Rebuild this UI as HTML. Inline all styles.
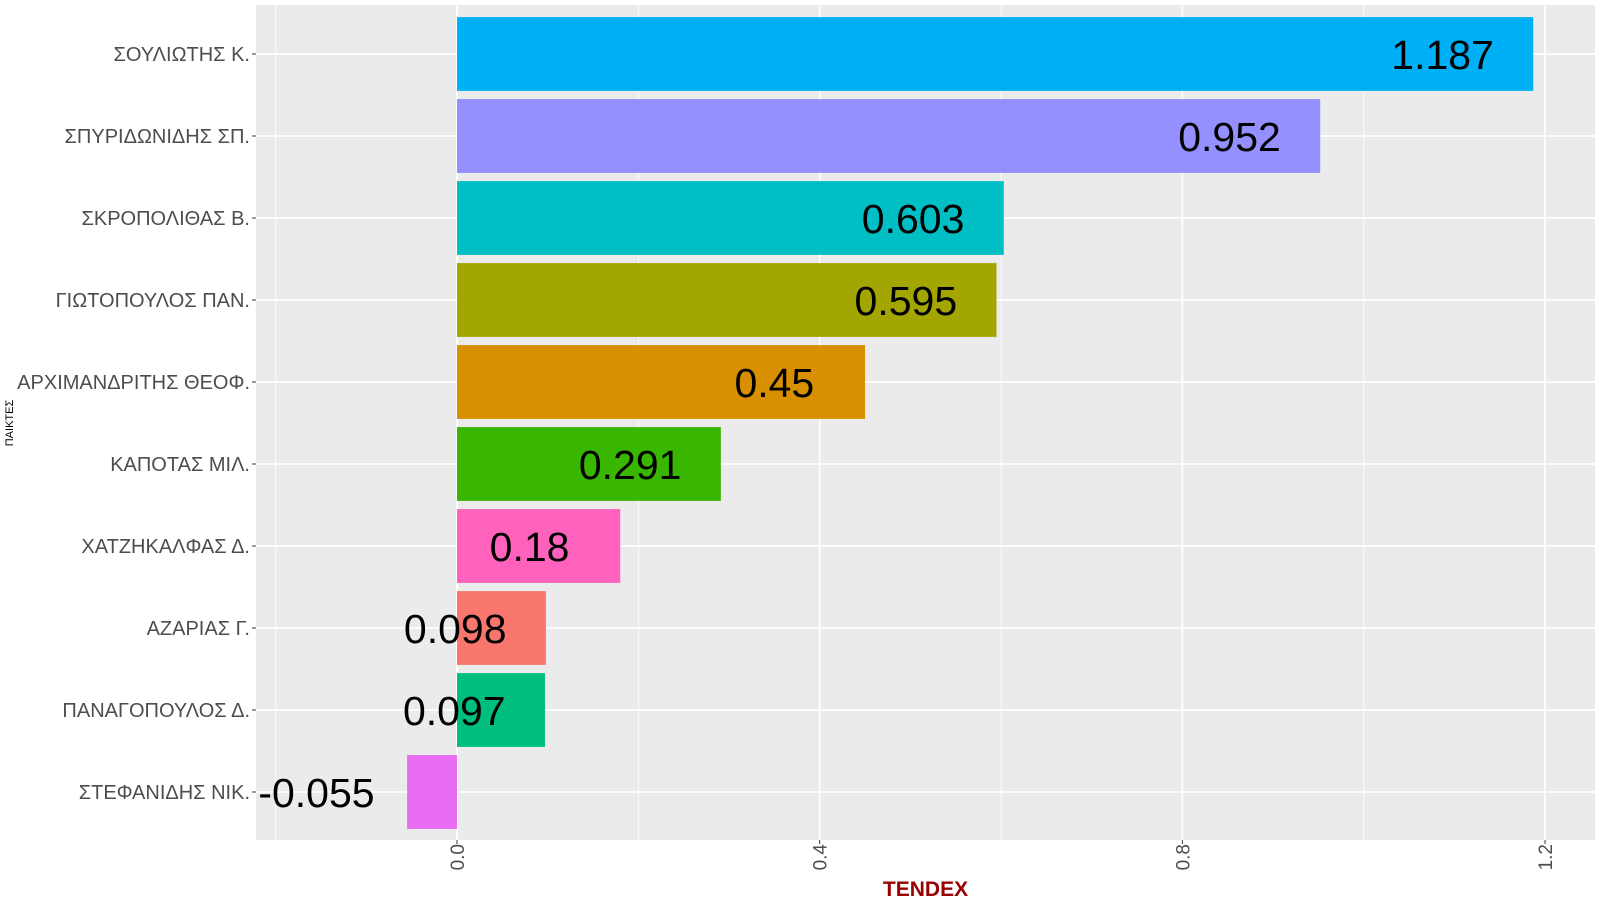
<!DOCTYPE html>
<html><head><meta charset="utf-8"><style>
body{margin:0;background:#fff;font-family:"Liberation Sans","DejaVu Sans",sans-serif}
</style></head><body>
<svg id="c" width="1600" height="900" xmlns="http://www.w3.org/2000/svg"></svg>
<script>
const players=["ΣΟΥΛΙΩΤΗΣ Κ.","ΣΠΥΡΙΔΩΝΙΔΗΣ ΣΠ.","ΣΚΡΟΠΟΛΙΘΑΣ Β.","ΓΙΩΤΟΠΟΥΛΟΣ ΠΑΝ.","ΑΡΧΙΜΑΝΔΡΙΤΗΣ ΘΕΟΦ.","ΚΑΠΟΤΑΣ ΜΙΛ.","ΧΑΤΖΗΚΑΛΦΑΣ Δ.","ΑΖΑΡΙΑΣ Γ.","ΠΑΝΑΓΟΠΟΥΛΟΣ Δ.","ΣΤΕΦΑΝΙΔΗΣ ΝΙΚ."];
const tendex=[1.187,0.952,0.603,0.595,0.45,0.291,0.18,0.098,0.097,-0.055];
const valueLabels=["1.187","0.952","0.603","0.595","0.45","0.291","0.18","0.098","0.097","-0.055"];
const colors=["#00B0F6","#9590FF","#00BFC4","#A3A500","#D89000","#39B600","#FF62BC","#F8766D","#00BF7D","#E76BF3"];
const majorTicks=[0,0.4,0.8,1.2];
const tickLabels=["0.0","0.4","0.8","1.2"];
const minorTicks=[-0.2,0.2,0.6,1.0];
const NS="http://www.w3.org/2000/svg";
const svg=document.getElementById('c');
const L=256,R=1595,T=5,B=840,xmin=-0.2217,xmax=1.2551;
const x=v=>L+(v-xmin)/(xmax-xmin)*(R-L);
const step=82, pad=49;
const yc=i=>T+pad+step*i;
function el(t,a,txt){const e=document.createElementNS(NS,t);for(const k in a)e.setAttribute(k,a[k]);if(txt!==undefined)e.textContent=txt;svg.appendChild(e);return e;}
let e=el('rect',{x:L,y:T,width:R-L,height:B-T,fill:'#EBEBEB'});


minorTicks.forEach(v=>{let g=el('line',{x1:x(v),x2:x(v),y1:T,y2:B,stroke:'#fff','stroke-width':0.8});

});
majorTicks.forEach((v,i)=>{let g=el('line',{x1:x(v),x2:x(v),y1:T,y2:B,stroke:'#fff','stroke-width':1.8});


let t=el('line',{x1:x(v),x2:x(v),y1:B,y2:B+4,stroke:'#333','stroke-width':1});


let tx=el('text',{x:0,y:0,transform:`translate(${x(v)+7},${B+4}) rotate(-90)`,'text-anchor':'end','font-size':19,fill:'#4D4D4D'},tickLabels[i]);

});
players.forEach((p,i)=>{let g=el('line',{x1:L,x2:R,y1:yc(i),y2:yc(i),stroke:'#fff','stroke-width':1.8});

});
players.forEach((p,i)=>{
const v=tendex[i],h=step*0.9;
let b=el('rect',{x:Math.min(x(0),x(v)),y:yc(i)-h/2,width:Math.abs(x(v)-x(0)),height:h,fill:colors[i]});


let t=el('text',{x:x(v-0.1),y:yc(i)+15,'text-anchor':'middle','font-size':41,fill:'#000'},valueLabels[i]);


let tk=el('line',{x1:L-4,x2:L,y1:yc(i),y2:yc(i),stroke:'#333','stroke-width':1});


let yl=el('text',{x:L-6,y:yc(i)+7,'text-anchor':'end','font-size':20,fill:'#4D4D4D'},p);


});
let xt=el('text',{x:(L+R)/2,y:896,'text-anchor':'middle','font-size':21,'font-weight':'bold',fill:'#990000'},'TENDEX');


let yt=el('text',{x:0,y:0,transform:`translate(13,${yc(4.5)}) rotate(-90)`,'text-anchor':'middle','font-size':11,fill:'#000'},'ΠΑΙΚΤΕΣ');


</script>
</body></html>
